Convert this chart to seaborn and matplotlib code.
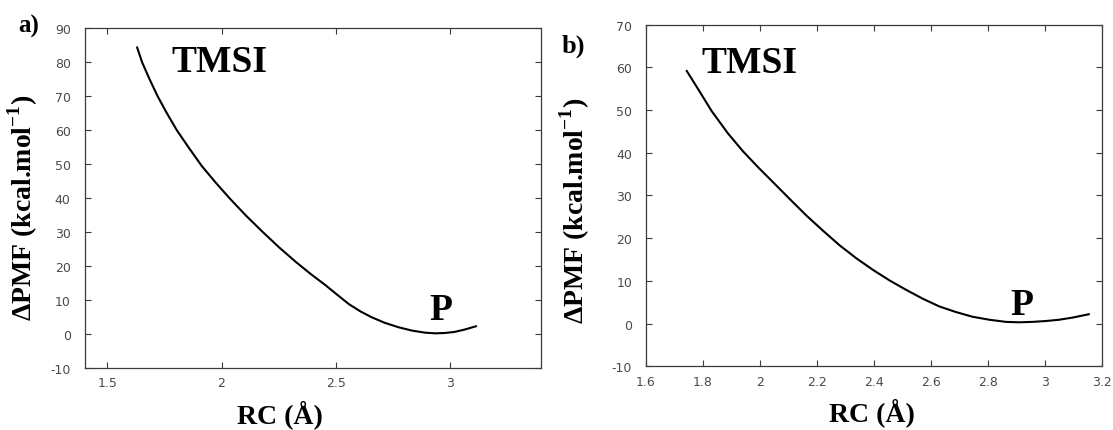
import matplotlib
matplotlib.use("Agg")
import matplotlib.pyplot as plt
import seaborn as sns
import pandas as pd

# PMF profiles along the reaction coordinate
rc_a = [1.630, 1.652, 1.684, 1.720, 1.758, 1.804, 1.855, 1.913, 1.974, 2.036,
        2.108, 2.181, 2.254, 2.326, 2.392, 2.457, 2.508, 2.558, 2.610, 2.659,
        2.715, 2.775, 2.835, 2.891, 2.935, 2.978, 3.020, 3.065, 3.116]
pmf_a = [84.4, 80.0, 75.1, 70.0, 65.3, 60.0, 55.0, 49.5, 44.6, 39.9,
         34.8, 30.0, 25.4, 21.2, 17.6, 14.3, 11.5, 8.8, 6.6, 4.9,
         3.3, 2.0, 1.0, 0.4, 0.2, 0.3, 0.6, 1.3, 2.3]

rc_b = [1.7425, 1.783, 1.830, 1.888, 1.941, 1.995, 2.046, 2.104, 2.163, 2.222,
        2.280, 2.338, 2.396, 2.455, 2.513, 2.572, 2.630, 2.688, 2.746, 2.805,
        2.863, 2.910, 2.957, 3.003, 3.050, 3.097, 3.155]
pmf_b = [59.2, 54.9, 49.8, 44.5, 40.3, 36.5, 33.1, 29.2, 25.3, 21.7,
         18.3, 15.3, 12.6, 10.1, 7.9, 5.8, 4.0, 2.7, 1.6, 0.9,
         0.4, 0.3, 0.4, 0.6, 0.9, 1.4, 2.2]

xticks_a = [1.5, 2.0, 2.5, 3.0]
xticklabels_a = ["1.5", "2", "2.5", "3"]
yticks_a = list(range(-10, 91, 10))

xticks_b = [1.6, 1.8, 2.0, 2.2, 2.4, 2.6, 2.8, 3.0, 3.2]
xticklabels_b = ["1.6", "1.8", "2", "2.2", "2.4", "2.6", "2.8", "3", "3.2"]
yticks_b = list(range(-10, 71, 10))

panel_tags = ["a)", "b)"]
state_labels = ["TMSI", "P"]
xlabel_text = "RC (Å)"
ylabel_text = r"ΔPMF (kcal.mol$^{\mathbf{-1}}$)"

sns.set_style("white")
plt.rcParams["font.family"] = ["DejaVu Sans"]
plt.rcParams["text.color"] = "black"
plt.rcParams["axes.labelcolor"] = "black"
plt.rcParams["mathtext.fontset"] = "custom"
plt.rcParams["mathtext.rm"] = "Liberation Serif"
plt.rcParams["mathtext.bf"] = "Liberation Serif:bold"

SERIF = "Liberation Serif"
SPINE = "#3a3a3a"
TICKTXT = "#4a4a4a"

fig = plt.figure(figsize=(11.13, 4.31), dpi=100)
ax_a = fig.add_axes([0.0760, 0.1439, 0.4101, 0.7882])
ax_b = fig.add_axes([0.5804, 0.1478, 0.4096, 0.7928])

df_a = pd.DataFrame({"rc": rc_a, "pmf": pmf_a})
df_b = pd.DataFrame({"rc": rc_b, "pmf": pmf_b})


def style_axes(ax, xlim, ylim, xticks, xticklabels, yticks):
    ax.set_xlim(*xlim)
    ax.set_ylim(*ylim)
    ax.set_xticks(xticks)
    ax.set_xticklabels(xticklabels)
    ax.set_yticks(yticks)
    ax.set_yticklabels([str(v) for v in yticks])
    for s in ax.spines.values():
        s.set_visible(True)
        s.set_color(SPINE)
        s.set_linewidth(0.9)
    ax.tick_params(axis="both", which="major", direction="in", length=4,
                   width=0.8, color=SPINE, labelcolor=TICKTXT, labelsize=9,
                   top=True, right=True, bottom=True, left=True)
    ax.tick_params(axis="y", pad=10)
    ax.tick_params(axis="x", pad=6)
    ax.set_xlabel(xlabel_text, fontfamily=SERIF, fontweight="bold",
                  fontsize=20, color="black")
    ax.set_ylabel(ylabel_text, fontfamily=SERIF, fontweight="bold",
                  fontsize=20, color="black")


sns.lineplot(data=df_a, x="rc", y="pmf", ax=ax_a, color="black", linewidth=1.5)
sns.lineplot(data=df_b, x="rc", y="pmf", ax=ax_b, color="black", linewidth=1.5)

style_axes(ax_a, (1.4, 3.4), (-10, 90), xticks_a, xticklabels_a, yticks_a)
style_axes(ax_b, (1.6, 3.2), (-10, 70), xticks_b, xticklabels_b, yticks_b)

ax_a.xaxis.set_label_coords(0.428, -0.091)
ax_b.xaxis.set_label_coords(0.496, -0.090)
ax_a.yaxis.set_label_coords(-0.098, 0.476)
ax_b.yaxis.set_label_coords(-0.118, 0.458)

# state annotations
txt_kw = dict(fontfamily=SERIF, fontweight="bold", fontsize=27,
              ha="center", va="baseline", color="black")
ax_a.text(1.99, 77.4, state_labels[0], **txt_kw)
ax_a.text(2.962, 4.5, state_labels[1], **txt_kw)
ax_b.text(1.964, 58.9, state_labels[0], **txt_kw)
ax_b.text(2.920, 2.2, state_labels[1], **txt_kw)

# panel tags
fig.text(0.0162, 0.9234, panel_tags[0], fontfamily=SERIF, fontweight="bold",
         fontsize=18, ha="left", va="baseline", color="black")
fig.text(0.505, 0.879, panel_tags[1], fontfamily=SERIF, fontweight="bold",
         fontsize=19, ha="left", va="baseline", color="black")

fig.savefig("out.png", dpi=100, facecolor="white")
